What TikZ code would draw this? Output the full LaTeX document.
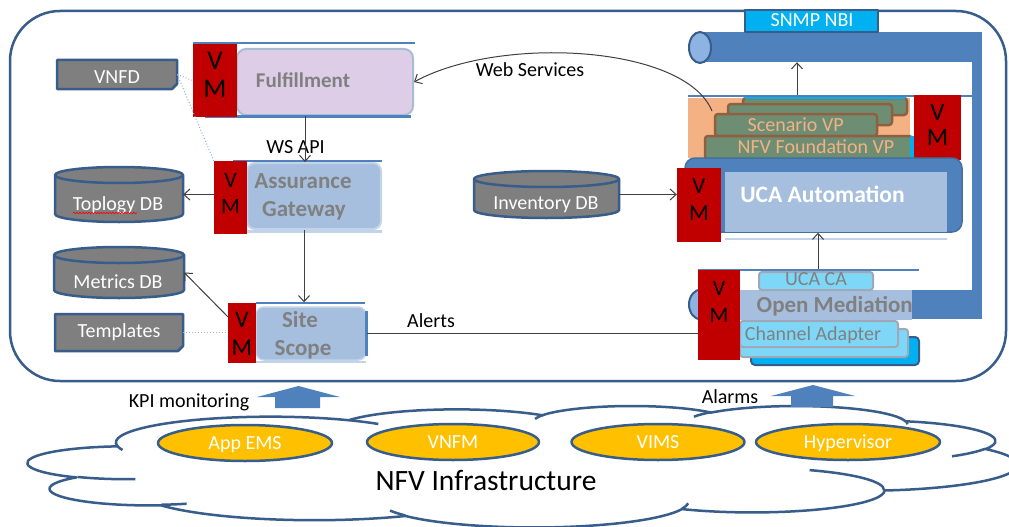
\documentclass[tikz,border=0pt]{standalone}
\usepackage{fontspec}
\setmainfont{Carlito}
\usetikzlibrary{arrows.meta,decorations.pathmorphing,shapes.geometric,fit}
\definecolor{frameblue}{HTML}{385D8A}
\definecolor{accent}{HTML}{4F81BD}
\definecolor{accentdark}{HTML}{41719C}
\definecolor{vmred}{HTML}{C00000}
\definecolor{dbgray}{HTML}{7F7F7F}
\definecolor{lav}{HTML}{DDCDE6}
\definecolor{lavborder}{HTML}{A9BCD6}
\definecolor{steel}{HTML}{A7BFDE}
\definecolor{paleline}{HTML}{C3D3E9}
\definecolor{cyanb}{HTML}{00B0F0}
\definecolor{lightcyan}{HTML}{7FD7F7}
\definecolor{peach}{HTML}{F4B183}
\definecolor{vpgreen}{HTML}{6E8E74}
\definecolor{vpbrown}{HTML}{8F5F3F}
\definecolor{gold}{HTML}{FFC000}
\definecolor{capblue}{HTML}{8DB3E2}
\definecolor{txtgray}{HTML}{808080}
\definecolor{boxgray}{HTML}{A0A8B8}
\definecolor{arrgray}{HTML}{404040}
\definecolor{dotblue}{HTML}{8DB3E2}
\tikzset{
 lbl/.style={anchor=base, inner sep=0pt, font=\fontsize{20}{24}\selectfont},
 blbl/.style={anchor=base, inner sep=0pt, text=txtgray, font=\bfseries\fontsize{23}{28}\selectfont},
 vmtxt/.style={anchor=base, inner sep=0pt, text=black},
 arr/.style={draw=arrgray, line width=1pt, -{Straight Barb[length=6pt,width=11pt]}},
 lineconn/.style={draw=arrgray, line width=1pt},
 dotln/.style={draw=dotblue, line width=1pt, dotted},
 dbshape/.style={fill=dbgray, draw=frameblue, line width=2.5pt},
 blueln/.style={draw=accent, line width=2.5pt},
 paleln/.style={draw=paleline, line width=2.5pt},
 cloudln/.style={draw=frameblue, line width=2.5pt},
 goldell/.style={ellipse, draw=frameblue, fill=gold, line width=2.5pt, inner sep=0pt, minimum height=36pt, text=white, font=\fontsize{20}{24}\selectfont, text height=13pt, text depth=0pt},
 vp/.style={draw=vpbrown, fill=vpgreen, line width=2.5pt, rounded corners=3pt, inner sep=0pt},
 cyanbox/.style={draw=boxgray, fill=lightcyan, line width=2pt, rounded corners=3pt, inner sep=0pt},
}
\newcommand\vmblock[8]{%
  \node[fit={(#2,#3) (#4,#5)}, inner sep=0pt, fill=vmred] (#1) {};
  \node[vmtxt, font=\fontsize{#6}{#6}\selectfont] (#1V) at ({(#2+#4)/2},#7) {V};
  \node[vmtxt, font=\fontsize{#6}{#6}\selectfont] (#1M) at ({(#2+#4)/2},#8) {M};
}
\newcommand\dbcyl[6]{%
  \path[dbshape] (#2,#3+#6) -- (#2,#5-#6) arc[start angle=180, end angle=0, x radius={(#4-#2)/2}, y radius=#6] -- (#4,#3+#6) arc[start angle=0, end angle=-180, x radius={(#4-#2)/2}, y radius=#6] -- cycle;
  \draw[frameblue, line width=2.5pt] (#2,#3+#6) arc[start angle=180, end angle=0, x radius={(#4-#2)/2}, y radius=#6];
  \node[fit={(#2,#3) (#4,#5)}, inner sep=0pt] (#1) {};
}
\newcommand\docshape[5]{%
  \draw[dbshape] (#2,#3) -- (#4,#3) -- (#4,#5-5) -- (#4-5,#5) -- (#2,#5) -- cycle;
  \node[fit={(#2,#3) (#4,#5)}, inner sep=0pt] (#1) {};
}
\begin{document}
\begin{tikzpicture}[x=1pt,y=-1pt,line join=round]
\useasboundingbox (0,0) rectangle (1009,527);
\clip (0,0) rectangle (1009,527);
\fill[white] (0,0) rectangle (1009,527);

% ---------- cloud ----------
\begin{scope}[shift={(28,405.6)},x=0.229pt,y=-0.0281pt]
\draw[cloudln,fill=white] (390,1437)
 arc[start angle=-187.75,delta angle=128.11,x radius=675.3,y radius=919]
 arc[start angle=-152.02,delta angle=106.58,x radius=533.3,y radius=726.7]
 arc[start angle=-153.48,delta angle=116.15,x radius=436.5,y radius=594.5]
 arc[start angle=-139.71,delta angle=129.49,x radius=485.7,y radius=659.5]
 arc[start angle=-74.77,delta angle=97.98,x radius=533.3,y radius=727.3]
 arc[start angle=-37.54,delta angle=119.40,x radius=677.5,y radius=922]
 arc[start angle=0.46,delta angle=121.52,x radius=578.5,y radius=786.7]
 arc[start angle=16.84,delta angle=129.39,x radius=675.2,y radius=921.5]
 arc[start angle=58.98,delta angle=91.20,x radius=772,y radius=1054.3]
 arc[start angle=-276.69,delta angle=139.82,x radius=436,y radius=591.8]
 arc[start angle=-239.64,delta angle=143.75,x radius=434.5,y radius=594.5]
 -- cycle;
\draw[cloudln]
 (469.3,2617.7) arc[start angle=85.55,delta angle=34.81,x radius=434.5,y radius=594.5]
 (692.8,3489.9) arc[start angle=68.24,delta angle=15.07,x radius=436,y radius=591.8]
 (1647.8,3909.0) arc[start angle=146.23,delta angle=12.25,x radius=675.2,y radius=921.5]
 (2882.7,3475.1) arc[start angle=4.74,delta angle=12.10,x radius=675.2,y radius=921.5]
 (3412.9,2295.4) arc[start angle=-64.03,delta angle=64.49,x radius=578.5,y radius=786.7]
 (4179.8,1535.4) arc[start angle=23.21,delta angle=26.44,x radius=533.3,y radius=727.3]
 (3832.4,542.6) arc[start angle=-10.22,delta angle=11.04,x radius=485.7,y radius=659.5]
 (2907.8,395.2) arc[start angle=-156.28,delta angle=16.57,x radius=485.7,y radius=659.5]
 (2214.1,472.0) arc[start angle=-167.72,delta angle=14.24,x radius=436.5,y radius=594.5]
 (1400.0,519.2) arc[start angle=-59.64,delta angle=13.87,x radius=675.3,y radius=919]
 (412.7,1578.9) arc[start angle=163.19,delta angle=9.06,x radius=675.3,y radius=919];
\end{scope}

\node[goldell,minimum width=174pt] (ems) at (245,443) {App EMS};
\node[goldell,minimum width=172pt] (vnfm) at (453,442) {VNFM};
\node[goldell,minimum width=173pt] (vims) at (658,442) {VIMS};
\node[goldell,minimum width=184pt] (hyp) at (848,442) {Hypervisor};
\node[anchor=base, inner sep=0pt, font=\fontsize{29.5}{34}\selectfont] (nfvi) at (486,490) {NFV Infrastructure};

% ---------- block arrows ----------
\fill[accent] (275,408) -- (275,397) -- (257,397) -- (298.5,386) -- (340,397) -- (320,397) -- (320,408) -- cycle;
\fill[accent] (791,407) -- (791,396) -- (771,396) -- (813,385) -- (855,396) -- (833,396) -- (833,407) -- cycle;
\node[lbl] (kpi) at (189,407) {KPI monitoring};
\node[lbl] (alarms) at (730,403) {Alarms};

% ---------- outer frame ----------
\draw[frameblue, line width=2.5pt, rounded corners=50pt] (10,11) rectangle (1006,381);

% ---------- pipe ----------
\node[fit={(700,32) (982,62)}, inner sep=0pt, fill=accent] (pipeT) {};
\fill[accent] (972,32) rectangle (982,319);
\node[fit={(700,290) (982,319)}, inner sep=0pt, fill=accent] (pipeB) {};
\draw[frameblue, fill=capblue, line width=2pt] (700,47.5) ellipse [x radius=11, y radius=15.5];
\draw[frameblue, fill=capblue, line width=2pt] (701,304.5) ellipse [x radius=12, y radius=15];
\node[fit={(745,10) (878,32)}, inner sep=0pt, fill=cyanb, draw=frameblue, line width=2pt] (snmp) {};
\node[lbl, text=white] (snmpT) at (812,27) {SNMP NBI};

% ---------- left column ----------
\docshape{vnfd}{57}{60}{177}{89}
\node[lbl, text=white] (vnfdT) at (117,84) {VNFD};
\docshape{tmpl}{55}{314}{183}{351}
\node[lbl, text=white] (tmplT) at (119,337) {Templates};
\dbcyl{topo}{55}{167}{183}{222}{8}
\node[lbl, text=white] (topoT) at (118,210) {Toplogy DB};
\draw[red, line width=0.6pt, decorate, decoration={snake, amplitude=0.8pt, segment length=3pt}] (73,213) -- (137,213);
\dbcyl{metr}{54}{247}{184}{298}{8}
\node[lbl, text=white] (metrT) at (118,288) {Metrics DB};

% Fulfillment
\draw[blueln] (193,43) -- (415,43);
\node[fit={(237,49) (413,115)}, inner sep=0pt, draw=lavborder, fill=lav, line width=2pt, rounded corners=9pt] (ful) {};
\draw[blueln] (205,116.5) -- (411,116.5);
\vmblock{vmF}{193}{44}{237}{117}{27}{70}{97}
\node[blbl, font=\bfseries\fontsize{21}{25}\selectfont] (fulT) at (303,88) {Fulfillment};

% Assurance Gateway
\draw[blueln] (233,161) -- (382,161);
\node[fit={(247,163) (381,229)}, inner sep=0pt, draw=paleline, fill=steel, line width=2pt, rounded corners=8pt] (asg) {};
\draw[paleln] (247,231.5) -- (382,231.5);
\vmblock{vmA}{214}{161}{247}{234}{22}{187}{213}
\node[blbl] (asgT1) at (303,188) {Assurance};
\node[blbl] (asgT2) at (304,216) {Gateway};

% Site Scope
\draw[blueln] (256,303) -- (365,303);
\node[fit={(256,307) (366,360)}, inner sep=0pt, draw=paleline, fill=steel, line width=1.5pt, rounded corners=8pt] (site) {};
\draw[accent, line width=3pt] ([yshift=-5pt]site.north east) -- ([yshift=5pt]site.south east);
\draw[paleln] (256,362) -- (366,362);
\vmblock{vmS}{228}{303}{256}{363}{24}{327}{355}
\node[blbl] (siteT1) at (300,327) {Site};
\node[blbl] (siteT2) at (303,355) {Scope};

\node[lbl] (wsapi) at (295.5,153) {WS API};

% ---------- right column ----------
\dbcyl{inv}{474}{171}{619}{218}{8}
\node[lbl, text=white] (invT) at (546,209) {Inventory DB};

% Scenario group
\draw[blueln, line width=2pt] (688,96) -- (972,96);
\fill[peach] (688,98) rectangle (910,158);
\node[fit={(743,98) (907,115)}, vp] (vp3) {};
\draw[cyanb, line width=2pt] (745,98) -- (905,98);
\node[fit={(728,104) (892,125)}, vp] (vp2) {};
\node[fit={(715,114) (877,136)}, vp] (scen) {};
\node[lbl, text=peach] (scenT) at (795.7,131) {Scenario VP};
\node[fit={(705,136) (912,159)}, vp] (nfvf) {};
\fill[cyanb] (910,136) rectangle (915,158);
\node[lbl, text=peach] (nfvfT) at (816,153) {NFV Foundation VP};
\vmblock{vmUp}{914}{95}{961}{160}{25}{120}{145}

% UCA Automation
\node[fit={(685,158) (962,232)}, inner sep=0pt, fill=accent, draw=accentdark, line width=1.5pt, rounded corners=10pt] (uca) {};
\node[fit={(725,172) (947,232)}, inner sep=0pt, fill=steel] (ucaIn) {};
\draw[paleln] (725,239) -- (947,239);
\vmblock{vmU}{677}{168}{721}{242}{23}{193}{220}
\node[blbl, text=white, font=\bfseries\fontsize{23.5}{28}\selectfont] (ucaT) at (822.5,202) {UCA Automation};

% Open Mediation
\node[fit={(751,337) (919,365)}, inner sep=0pt, fill=cyanb, draw=frameblue, line width=2pt, rounded corners=4pt] (ca3) {};
\node[fit={(740,329) (908,357)}, cyanbox] (ca2) {};
\node[fit={(740,321) (898,347)}, cyanbox] (ca1) {};
\node[lbl, text=txtgray] (ca1T) at (813,340) {Channel Adapter};
\node[fit={(740,290) (912,320)}, inner sep=0pt, fill=steel] (om) {};
\node[blbl] (omT) at (834.7,312) {Open Mediation};
\node[fit={(759,272) (873,290)}, cyanbox] (ucaca) {};
\node[lbl, text=txtgray] (ucacaT) at (816,285) {UCA CA};
\draw[blueln, line width=2pt] (698,270) -- (919,270);
\vmblock{vmO}{698}{270}{740}{360}{22}{295}{322}

% ---------- connectors ----------
\coordinate (scTop) at (797,95);
\coordinate (omTop) at (818,269);
\coordinate (ws0) at (712,111);
\draw[arr] ([xshift=-20pt]ful.south) -- ([xshift=-9pt]asg.north);
\draw[arr] ([xshift=-10pt]asg.south) -- ([xshift=-7pt,yshift=4pt]site.north);
\draw[arr] (vmA.west |- topo.east) -- (topo.east);
\draw[arr] ([yshift=-14pt]vmS.north west) -- (metr.east);
\draw[dotln] (tmpl.east) -- (tmpl.east -| vmS.west);
\draw[dotln] (vnfd.east) -- (vmF.west);
\draw[dotln] (vnfd.east) -- (vmA.north west);
\draw[lineconn] (site.east) -- (site.east -| vmO.west);
\node[lbl, anchor=base west] (alertsT) at (407,327) {Alerts};
\draw[arr] (ws0) .. controls (685,45) and (500,35) .. (ful.east);
\node[lbl] (wsT) at (530,77) {Web Services};
\draw[arr] (inv.east) -- (inv.east -| vmU.west);
\draw[arr] (scTop) -- (pipeT.south -| scTop);
\draw[arr] (omTop) -- (uca.south -| omTop);
\end{tikzpicture}
\end{document}
